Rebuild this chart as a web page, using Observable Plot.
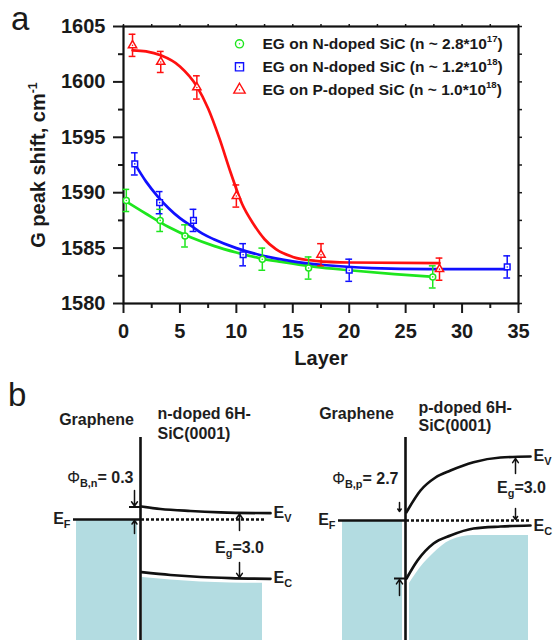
<!DOCTYPE html>
<html><head><meta charset="utf-8">
<script src="https://cdn.jsdelivr.net/npm/d3@7"></script>
<script src="https://cdn.jsdelivr.net/npm/@observablehq/plot@0.6"></script>
<style>
html,body{margin:0;padding:0;background:#fff;}
#fig{position:relative;width:555px;height:640px;overflow:hidden;font-family:"Liberation Sans",Arial,sans-serif;color:#1a1a1a;}
#pa{position:absolute;left:0;top:0;}
#pb{position:absolute;left:0;top:380px;}
.letter{position:absolute;font-size:33px;line-height:33px;font-family:"Liberation Sans",Arial,sans-serif;color:#1a1a1a;}
</style></head><body>
<div id="fig">
  <div id="pa"></div>
  <div id="pb"></div>
  <div class="letter" style="left:11px;top:2px">a</div>
  <div class="letter" style="left:8px;top:378px">b</div>
</div>
<script>
// ---------- Panel a data ----------
const layerN17 = [0.25, 3.25, 5.45, 12.3, 16.4, 27.4];
const shiftN17 = [1589.3, 1587.5, 1586.1, 1584.0, 1583.2, 1582.4];
const errN17   = [1.0, 1.0, 1.0, 1.0, 1.0, 1.0];
const layerN18 = [1.0, 3.2, 6.2, 10.6, 20.0, 34.0];
const shiftN18 = [1592.6, 1589.1, 1587.5, 1584.4, 1583.0, 1583.3];
const errN18   = [1.0, 1.0, 1.0, 1.0, 1.0, 1.0];
const layerP18 = [0.8, 3.3, 6.5, 10.0, 17.5, 28.0];
const shiftP18 = [1603.3, 1601.8, 1599.5, 1589.7, 1584.4, 1583.1];
const errP18   = [1.0, 0.95, 1.05, 1.0, 1.0, 1.0];
// fitted curves
const fitN17Layer = [0.25, 2, 4, 6, 8, 10, 12, 14, 17, 20, 24, 27.5];
const fitN17Shift = [1589.2, 1588.1, 1586.9, 1585.95, 1585.2, 1584.6, 1584.1, 1583.75, 1583.3, 1583.0, 1582.65, 1582.4];
const fitN18Layer = [1, 2, 3, 4, 5, 6, 7, 8, 10, 12, 15, 18, 22, 27, 34];
const fitN18Shift = [1592.6, 1591.0, 1589.7, 1588.6, 1587.7, 1587.0, 1586.3, 1585.8, 1585.0, 1584.4, 1583.8, 1583.45, 1583.2, 1583.1, 1583.1];
const fitP18Layer = [0.8, 2, 3.3, 5, 6.5, 7.5, 8.5, 9.5, 10.5, 11.5, 12.5, 13.5, 15, 17, 20, 28];
const fitP18Shift = [1602.85, 1602.75, 1602.4, 1601.4, 1599.6, 1597.6, 1594.9, 1591.8, 1589.0, 1587.2, 1585.8, 1584.9, 1584.2, 1583.85, 1583.7, 1583.65];
const legendLabels = [
  "EG on N-doped SiC (n ~ 2.8*10^{17})",
  "EG on N-doped SiC (n ~ 1.2*10^{18})",
  "EG on P-doped SiC (n ~ 1.0*10^{18})"
];
const xTicks = [0, 5, 10, 15, 20, 25, 30, 35];
const xMinorTicks = [2.5, 7.5, 12.5, 17.5, 22.5, 27.5, 32.5];
const yTicks = [1580, 1585, 1590, 1595, 1600, 1605];
const yMinorTicks = [1582.5, 1587.5, 1592.5, 1597.5, 1602.5];
const xTitle = "Layer";
const yTitle = "G peak shift, cm^{-1}";

// ---------- Panel b data (schematic band diagrams) ----------
// x: distance from the graphene/SiC interface, y: level relative to E_F (schematic units)
const nValence    = [[1, 13], [20, 10.5], [50, 8.5], [80, 7.2], [130, 6.3]];
const nConduction = [[1, -52.7], [30, -55.5], [60, -57.5], [90, -58.6], [130, -59.3]];
const nFillTop    = [[2, -58], [30, -60.5], [60, -62.5], [90, -63.4], [122, -63.7]];
const pValence    = [[1, 7.3], [15, 29], [30, 42], [45, 49], [68, 57.3], [95, 62], [125, 63]];
const pConduction = [[1, -59], [12, -41], [28, -24], [45, -16], [68, -9], [95, -7], [125, -6]];
const pFillTop    = [[4, -64], [15, -48], [28, -34], [45, -21], [68, -16], [123, -16]];
const nLabels = ["Graphene", "n-doped 6H-", "SiC(0001)", "E_{F}", "E_{V}", "E_{C}", "E_{g}=3.0", "Φ_{B,n}= 0.3"];
const pLabels = ["Graphene", "p-doped 6H-", "SiC(0001)", "E_{F}", "E_{V}", "E_{C}", "E_{g}=3.0", "Φ_{B,p}= 2.7"];

// ---------- build tables ----------
const GREEN = "#1ee61e", BLUE = "#1010ff", RED = "#ff1010";
const series = [
  {s: "n17", color: GREEN, symbol: "circle",   r: 4.6, lx: layerN17, ly: shiftN17, le: errN17, fx: fitN17Layer, fy: fitN17Shift},
  {s: "n18", color: BLUE,  symbol: "square",   r: 5.2, lx: layerN18, ly: shiftN18, le: errN18, fx: fitN18Layer, fy: fitN18Shift},
  {s: "p18", color: RED,   symbol: "triangle", r: 4.8, lx: layerP18, ly: shiftP18, le: errP18, fx: fitP18Layer, fy: fitP18Shift}
];
const pts = series.flatMap(d => d.lx.map((x, i) => ({x, y: d.ly[i], e: d.le[i], color: d.color, symbol: d.symbol, r: d.r})));
const fits = series.flatMap(d => d.fx.map((x, i) => ({x, y: d.fy[i], s: d.s, color: d.color})));
const CAP = 0.3;
const FONT = "'Liberation Sans', Arial, Helvetica, sans-serif";

const legendMarks = series.flatMap((d, i) => [
  Plot.dot([d], {frameAnchor: "top-left", dx: 116, dy: 17.3 + i * 23, symbol: d.symbol, r: d.r * 0.88, stroke: d.color, fill: "white", strokeWidth: 1.4}),
  Plot.dot([d], {frameAnchor: "top-left", dx: 116, dy: 17.3 + i * 23, r: 0.7, fill: d.color}),
  Plot.text([legendLabels[i]], {frameAnchor: "top-left", dx: 139, dy: 17.3 + i * 23, text: t => t, textAnchor: "start", lineAnchor: "middle", fontSize: 15.5, fontWeight: "bold"})
]);

const plotA = Plot.plot({
  width: 555, height: 380,
  marginLeft: 123, marginRight: 37, marginTop: 26, marginBottom: 77,
  x: {domain: [0, 35]},
  y: {domain: [1580, 1605]},
  style: {fontFamily: FONT, color: "#1a1a1a", background: "transparent", overflow: "visible"},
  marks: [
    Plot.axisX(xTicks, {tickSize: 10, tickPadding: 10, tickFormat: d => String(d), fontSize: 20, fontWeight: "bold", strokeWidth: 2, label: null}),
    Plot.axisX(xMinorTicks, {tickSize: 5, tickFormat: () => "", strokeWidth: 2, label: null}),
    Plot.axisX([...xTicks, ...xMinorTicks], {anchor: "top", tickSize: 3, tickFormat: () => "", strokeWidth: 1.5, label: null}),
    Plot.axisY(yTicks, {tickSize: 10, tickPadding: 8, tickFormat: d => String(d), fontSize: 20, fontWeight: "bold", strokeWidth: 2, label: null}),
    Plot.axisY(yMinorTicks, {tickSize: 5, tickFormat: () => "", strokeWidth: 2, label: null}),
    Plot.axisY([...yTicks, ...yMinorTicks], {anchor: "right", tickSize: 3, tickFormat: () => "", strokeWidth: 1.5, label: null}),
    Plot.frame({stroke: "#111", strokeWidth: 2.2}),
    Plot.line(fits, {x: "x", y: "y", z: "s", stroke: "color", strokeWidth: 2.7, curve: "monotone-x"}),
    Plot.ruleX(pts, {x: "x", y1: d => d.y - d.e, y2: d => d.y + d.e, stroke: "color", strokeWidth: 1.5}),
    Plot.ruleY(pts, {y: d => d.y + d.e, x1: d => d.x - CAP, x2: d => d.x + CAP, stroke: "color", strokeWidth: 1.5}),
    Plot.ruleY(pts, {y: d => d.y - d.e, x1: d => d.x - CAP, x2: d => d.x + CAP, stroke: "color", strokeWidth: 1.5}),
    Plot.dot(pts, {x: "x", y: "y", symbol: "symbol", r: "r", stroke: "color", fill: "white", strokeWidth: 1.5}),
    Plot.dot(pts, {x: "x", y: "y", r: 0.8, fill: "color"}),
    ...legendMarks,
    Plot.text([xTitle], {frameAnchor: "bottom", dy: 55, text: t => t, textAnchor: "middle", lineAnchor: "middle", fontSize: 20, fontWeight: "bold"}),
    Plot.text([yTitle], {frameAnchor: "left", dx: -85, rotate: -90, text: t => t, textAnchor: "middle", lineAnchor: "middle", fontSize: 20, fontWeight: "bold"})
  ]
});
plotA.setAttribute("overflow", "visible");

// ---------- panel b ----------
const shapeRows = (arr, fx, id) => arr.map(([x, y]) => ({fx, id, x, y}));
const bandLines = [
  ...shapeRows(nValence, "n", "nV"), ...shapeRows(nConduction, "n", "nC"),
  ...shapeRows(pValence, "p", "pV"), ...shapeRows(pConduction, "p", "pC")
];
const fills = [...shapeRows(nFillTop, "n", "nF"), ...shapeRows(pFillTop, "p", "pF")];
const BOTTOM = -121, TOP = 82;
const metalFill = [
  {fx: "n", x1: -64, x2: -3, y1: BOTTOM, y2: 0},
  {fx: "p", x1: -63, x2: -3, y1: BOTTOM, y2: -1}
];
const interfaces = [{fx: "n", x: 0, y1: BOTTOM, y2: TOP}, {fx: "p", x: 0, y1: BOTTOM, y2: TOP}];
const fermiSolid = [{fx: "n", x1: -67, x2: 0, y: 0}, {fx: "p", x1: -67, x2: 0, y: -1}];
const fermiDotted = [{fx: "n", x1: 1, x2: 125, y: 0}, {fx: "p", x1: 1, x2: 125, y: -1}];
const barrierTicks = [{fx: "n", x1: -11, x2: 0, y: 12.5}, {fx: "p", x1: -11, x2: 0, y: -59}];
const arrows = [
  {fx: "n", x1: -6, y1: 29, x2: -6, y2: 13.5}, {fx: "n", x1: -6, y1: -14, x2: -6, y2: -1},
  {fx: "n", x1: 99, y1: -11, x2: 99, y2: 5.5}, {fx: "n", x1: 99, y1: -43, x2: 99, y2: -58},
  {fx: "p", x1: -6, y1: 17, x2: -6, y2: 8}, {fx: "p", x1: -6, y1: -76, x2: -6, y2: -60},
  {fx: "p", x1: 110, y1: 46, x2: 110, y2: 61}, {fx: "p", x1: 110, y1: 11, x2: 110, y2: 0}
];
const labelAt = (labels, fx, spots) => labels.map((t, i) => ({fx, t, ...spots[i]}));
const nSpots = [
  {x: -44, y: 100, a: "middle"}, {x: 17, y: 106, a: "start"}, {x: 17, y: 86, a: "start"},
  {x: -70, y: 1, a: "end"}, {x: 133, y: 7, a: "start"}, {x: 133, y: -58, a: "start"},
  {x: 99, y: -28, a: "middle"}, {x: -7, y: 42, a: "end"}
];
const pSpots = [
  {x: -49, y: 106, a: "middle"}, {x: 13, y: 112, a: "start"}, {x: 13, y: 94, a: "start"},
  {x: -70, y: 0, a: "end"}, {x: 128, y: 64, a: "start"}, {x: 128, y: -6, a: "start"},
  {x: 116, y: 32, a: "middle"}, {x: -7, y: 41, a: "end"}
];
const texts = [...labelAt(nLabels, "n", nSpots), ...labelAt(pLabels, "p", pSpots)];
const textMark = a => Plot.text(texts.filter(d => d.a === a), {fx: "fx", x: "x", y: "y", text: "t", textAnchor: a, lineAnchor: "middle", fontSize: 16, fontWeight: "bold", fill: "#1e1e1e"});

const plotB = Plot.plot({
  width: 555, height: 260,
  marginLeft: 20, marginRight: 30, marginTop: 0, marginBottom: 0,
  fx: {domain: ["n", "p"], paddingInner: 25 / 265, paddingOuter: 0, axis: null, label: null},
  x: {domain: [-120, 120], axis: null},
  y: {domain: [-121, 139], axis: null},
  style: {fontFamily: FONT, color: "#1a1a1a", background: "transparent", overflow: "visible"},
  marks: [
    Plot.rect(metalFill, {fx: "fx", x1: "x1", x2: "x2", y1: "y1", y2: "y2", fill: "#b3dce1"}),
    Plot.areaY(fills, {fx: "fx", x: "x", y1: BOTTOM, y2: "y", z: "id", fill: "#b3dce1", curve: "monotone-x"}),
    Plot.ruleX(interfaces, {fx: "fx", x: "x", y1: "y1", y2: "y2", stroke: "#111", strokeWidth: 2.6}),
    Plot.ruleY(fermiSolid, {fx: "fx", x1: "x1", x2: "x2", y: "y", stroke: "#111", strokeWidth: 2.6}),
    Plot.ruleY(fermiDotted, {fx: "fx", x1: "x1", x2: "x2", y: "y", stroke: "#111", strokeWidth: 2.4, strokeDasharray: "3,2"}),
    Plot.ruleY(barrierTicks, {fx: "fx", x1: "x1", x2: "x2", y: "y", stroke: "#111", strokeWidth: 2}),
    Plot.line(bandLines, {fx: "fx", x: "x", y: "y", z: "id", stroke: "#111", strokeWidth: 2.7, curve: "monotone-x"}),
    Plot.arrow(arrows, {fx: "fx", x1: "x1", y1: "y1", x2: "x2", y2: "y2", stroke: "#111", strokeWidth: 1.5, headLength: 6, headAngle: 70}),
    textMark("start"), textMark("middle"), textMark("end")
  ]
});
plotB.setAttribute("overflow", "visible");

document.getElementById("pa").appendChild(plotA);
document.getElementById("pb").appendChild(plotB);

// ---------- rich text: ^{sup}, _{sub}, and a light-weight Φ ----------
const SVGNS = "http://www.w3.org/2000/svg";
function richify(root) {
  root.querySelectorAll("text").forEach(t => {
    const s = t.textContent;
    if (!/[\^_]\{|Φ/.test(s)) return;
    const fs = parseFloat(getComputedStyle(t).fontSize) || 16;
    while (t.firstChild) t.removeChild(t.firstChild);
    let cur = 0;
    const add = (str, want, extra) => {
      const ts = document.createElementNS(SVGNS, "tspan");
      ts.textContent = str;
      if (want !== cur) ts.setAttribute("dy", (want - cur).toFixed(2));
      cur = want;
      if (extra) for (const k in extra) ts.setAttribute(k, extra[k]);
      t.appendChild(ts);
    };
    const re = /([\^_])\{([^}]*)\}|(Φ)/g;
    let last = 0, m;
    while ((m = re.exec(s))) {
      if (m.index > last) add(s.slice(last, m.index), 0);
      if (m[3]) add("Φ", 0, {"font-weight": "normal"});
      else if (m[1] === "^") add(m[2], -0.42 * fs, {"font-size": (0.62 * fs).toFixed(1)});
      else add(m[2], 0.3 * fs, {"font-size": (0.68 * fs).toFixed(1)});
      last = re.lastIndex;
    }
    if (last < s.length) add(s.slice(last), 0);
  });
}
richify(plotA);
richify(plotB);
</script>
</body></html>
